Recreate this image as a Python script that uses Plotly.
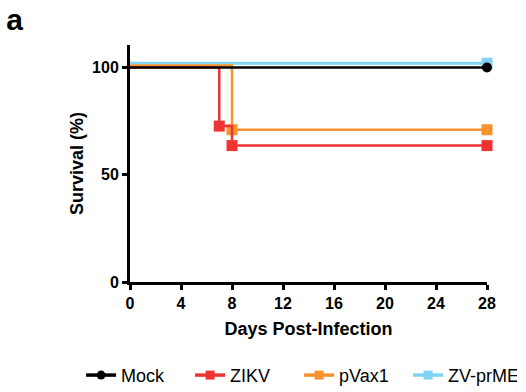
import plotly.graph_objects as go

groups = ["Mock", "ZIKV", "pVax1", "ZV-prME"]
colors = ["#000000", "#EE3433", "#F7922F", "#7FD3F4"]
symbols = ["circle", "square", "square", "square"]

days = {
    "Mock": [0, 28],
    "ZIKV": [0, 7, 8, 28],
    "pVax1": [0, 8, 28],
    "ZV-prME": [0, 28],
}
survival = {
    "Mock": [100, 100],
    "ZIKV": [100, 72.7, 63.6, 63.6],
    "pVax1": [101, 71.0, 71.0],
    "ZV-prME": [102, 102],
}

x_ticks = [0, 4, 8, 12, 16, 20, 24, 28]
y_ticks = [0, 50, 100]

FONT = "Liberation Sans, Arial, sans-serif"

fig = go.Figure()
order = ["ZV-prME", "pVax1", "ZIKV", "Mock"]
for g in order:
    i = groups.index(g)
    fig.add_trace(go.Scatter(
        x=days[g], y=survival[g], mode="lines", line_shape="hv",
        line=dict(color=colors[i], width=3 if g == "ZV-prME" else 2.5),
        showlegend=False, cliponaxis=False, hoverinfo="skip"))
    fig.add_trace(go.Scatter(
        x=days[g][1:], y=survival[g][1:], mode="markers",
        marker=dict(color=colors[i], symbol=symbols[i], size=10 if g == "Mock" else 11),
        showlegend=False, cliponaxis=False))
for i, g in enumerate(groups):
    fig.add_trace(go.Scatter(
        x=[None], y=[None], mode="lines+markers", name=g,
        line=dict(color=colors[i], width=3.5),
        marker=dict(color=colors[i], symbol=symbols[i], size=9)))

axis_common = dict(showline=True, linewidth=3, linecolor="black", ticks="outside",
                   ticklen=5, tickwidth=2.5, tickcolor="black", showgrid=False,
                   zeroline=False, automargin=False,
                   tickfont=dict(size=16, family=FONT, weight="bold"))

fig.update_layout(
    width=526, height=392,
    margin=dict(l=130, r=39, t=45, b=110, autoexpand=False),
    paper_bgcolor="white", plot_bgcolor="white",
    font=dict(family=FONT, color="black"),
    xaxis=dict(range=[0, 28], tickvals=x_ticks, ticktext=[str(v) for v in x_ticks],
               title=dict(text="<b>Days Post-Infection</b>", font=dict(size=18), standoff=12),
               **axis_common),
    yaxis=dict(range=[0, 110.5], tickvals=y_ticks, ticktext=[str(v) for v in y_ticks],
               title=dict(text="<b>Survival (%)</b>", font=dict(size=18), standoff=4),
               **axis_common),
    legend=dict(orientation="h", x=-0.137, xanchor="left", y=-0.394, yanchor="middle",
                font=dict(size=18), entrywidth=64, entrywidthmode="pixels",
                tracegroupgap=0),
    title=dict(text="<b>a</b>", x=0.012, xref="container", xanchor="left",
               y=0.95, yref="container", yanchor="middle", font=dict(size=30),
               automargin=False),
)
fig.write_html("out.html", config={"displayModeBar": False},
               post_script="document.body.style.margin='0';document.body.style.padding='0';")
